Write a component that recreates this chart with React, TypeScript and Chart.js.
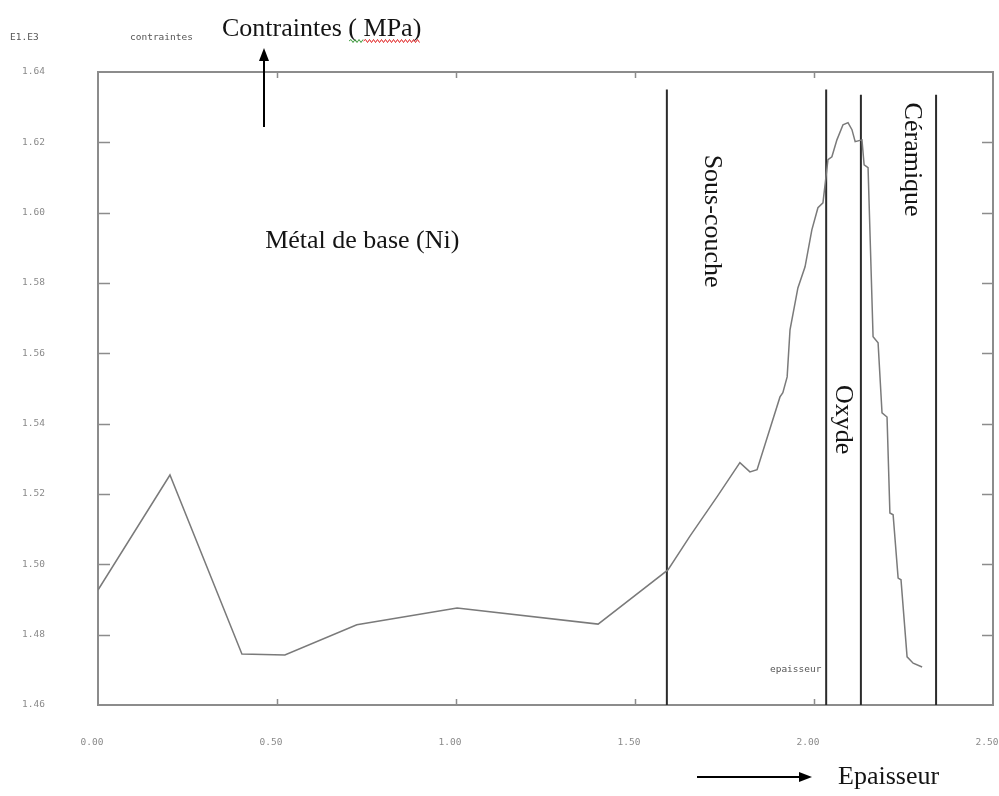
import React, { useEffect, useRef } from "react";
import { Chart, registerables } from "chart.js";

Chart.register(...registerables);

// Thickness (x, arbitrary units as labelled) and stress (y)
const thickness = [
  0.0, 0.201, 0.402, 0.522, 0.723, 1.003, 1.397, 1.592, 1.654, 1.729, 1.793, 1.821,
  1.841, 1.905, 1.913, 1.925, 1.933, 1.955, 1.975, 1.994, 2.011, 2.025, 2.039, 2.05,
  2.064, 2.081, 2.095, 2.106, 2.115, 2.134, 2.14, 2.151, 2.165, 2.179, 2.19, 2.204,
  2.212, 2.221, 2.235, 2.243, 2.26, 2.277, 2.302,
];
const stress = [
  1.4927, 1.5254, 1.4745, 1.4742, 1.4828, 1.4876, 1.483, 1.4984, 1.5081, 1.5192, 1.5289,
  1.5263, 1.5269, 1.5476, 1.5488, 1.5533, 1.5667, 1.5786, 1.5846, 1.5951, 1.6014, 1.6028,
  1.6151, 1.6159, 1.6207, 1.625, 1.6256, 1.6236, 1.6202, 1.6207, 1.6136, 1.6128, 1.5647,
  1.563, 1.5431, 1.5419, 1.5146, 1.5141, 1.4961, 1.4956, 1.4737, 1.4719, 1.4708,
];

// Layer boundaries (vertical lines) and their upper ends
const boundaryX = [1.589, 2.034, 2.131, 2.341];
const boundaryTop = [1.635, 1.635, 1.6335, 1.6335];

const xMin = 0;
const xMax = 2.5;
const xStep = 0.5;
const yMin = 1.46;
const yMax = 1.64;
const yStep = 0.02;

const yAxisTitle = "Contraintes ( MPa)";
const xAxisTitle = "Epaisseur";
const smallYTitle = "contraintes";
const smallXTitle = "epaisseur";
const scaleFactorLabel = "E1.E3";
const regionMetal = "Métal de base (Ni)";
const regionSub = "Sous-couche";
const regionOxide = "Oxyde";
const regionCeramic = "Céramique";

const SERIF = '"Liberation Serif", "Times New Roman", serif';
const MONO = '"DejaVu Sans Mono", "Liberation Mono", monospace';

function squiggle(ctx: CanvasRenderingContext2D, x0: number, x1: number, y: number, color: string) {
  ctx.save();
  ctx.strokeStyle = color;
  ctx.lineWidth = 1;
  ctx.beginPath();
  let up = true;
  ctx.moveTo(x0, y);
  for (let x = x0 + 2; x <= x1; x += 2) {
    ctx.lineTo(x, y + (up ? -1.5 : 1.5));
    up = !up;
  }
  ctx.stroke();
  ctx.restore();
}

const decorPlugin = {
  id: "decor",
  afterDraw(chart: any) {
    const ctx: CanvasRenderingContext2D = chart.ctx;
    const { left, right, top, bottom } = chart.chartArea;
    const xs = chart.scales.x;
    const ys = chart.scales.y;
    ctx.save();

    // top and right frame
    ctx.strokeStyle = "#8c8c8c";
    ctx.lineWidth = 2;
    ctx.beginPath();
    ctx.moveTo(left, top);
    ctx.lineTo(right, top);
    ctx.lineTo(right, bottom);
    ctx.stroke();

    // inward tick marks
    ctx.lineWidth = 1.5;
    ctx.beginPath();
    for (let v = yMin + yStep; v < yMax - 1e-9; v += yStep) {
      const py = Math.round(ys.getPixelForValue(v)) + 0.5;
      ctx.moveTo(left, py);
      ctx.lineTo(left + 12, py);
      ctx.moveTo(right, py);
      ctx.lineTo(right - 11, py);
    }
    for (let v = xMin + xStep; v < xMax - 1e-9; v += xStep) {
      const px = Math.round(xs.getPixelForValue(v)) + 0.5;
      ctx.moveTo(px, top);
      ctx.lineTo(px, top + 6);
      ctx.moveTo(px, bottom);
      ctx.lineTo(px, bottom - 6);
    }
    ctx.stroke();

    // small technical labels
    ctx.fillStyle = "#555";
    ctx.font = `9.5px ${MONO}`;
    ctx.textBaseline = "middle";
    ctx.textAlign = "left";
    ctx.fillText(scaleFactorLabel, 10, 38);
    ctx.fillText(smallYTitle, 130, 38);
    ctx.fillText(smallXTitle, xs.getPixelForValue(1.877), ys.getPixelForValue(1.4702));

    // big titles
    ctx.fillStyle = "#141414";
    ctx.font = `26px ${SERIF}`;
    ctx.textBaseline = "alphabetic";
    const titleX = 222;
    const titleY = 36;
    ctx.fillText(yAxisTitle, titleX, titleY);
    const wPre = ctx.measureText("Contraintes (").width;
    const wAll = ctx.measureText(yAxisTitle).width;
    const wParen = ctx.measureText("Contraintes ( ").width;
    squiggle(ctx, titleX + wPre - 8, titleX + wParen, titleY + 5, "#3a9a3a");
    squiggle(ctx, titleX + wParen, titleX + wAll, titleY + 5, "#e02020");

    ctx.textBaseline = "middle";
    ctx.fillText(regionMetal, xs.getPixelForValue(0.467), ys.getPixelForValue(1.5918));
    ctx.fillText(xAxisTitle, 838, 777);

    const vertical = (text: string, xv: number, yv: number) => {
      ctx.save();
      ctx.translate(xs.getPixelForValue(xv), ys.getPixelForValue(yv));
      ctx.rotate(Math.PI / 2);
      ctx.textAlign = "left";
      ctx.textBaseline = "middle";
      ctx.fillText(text, 0, 0);
      ctx.restore();
    };
    vertical(regionSub, 1.715, 1.6165);
    vertical(regionOxide, 2.081, 1.551);
    vertical(regionCeramic, 2.274, 1.6313);

    // arrows
    ctx.strokeStyle = "#000";
    ctx.fillStyle = "#000";
    ctx.lineWidth = 2;
    ctx.beginPath();
    ctx.moveTo(264, 127);
    ctx.lineTo(264, 58);
    ctx.stroke();
    ctx.beginPath();
    ctx.moveTo(264, 48);
    ctx.lineTo(259, 61);
    ctx.lineTo(269, 61);
    ctx.closePath();
    ctx.fill();

    ctx.beginPath();
    ctx.moveTo(697, 777);
    ctx.lineTo(802, 777);
    ctx.stroke();
    ctx.beginPath();
    ctx.moveTo(812, 777);
    ctx.lineTo(799, 772);
    ctx.lineTo(799, 782);
    ctx.closePath();
    ctx.fill();

    ctx.restore();
  },
};

export default function App() {
  const canvasRef = useRef<HTMLCanvasElement | null>(null);

  useEffect(() => {
    const canvas = canvasRef.current;
    if (!canvas) return;
    const curve = thickness.map((x, i) => ({ x, y: stress[i] }));
    const boundaryDatasets = boundaryX.map((x, i) => ({
      type: "line" as const,
      data: [
        { x, y: yMin },
        { x, y: boundaryTop[i] },
      ],
      borderColor: "#2b2b2b",
      borderWidth: 2,
      pointRadius: 0,
      fill: false,
    }));

    const chart = new Chart(canvas, {
      type: "line",
      data: {
        datasets: [
          {
            data: curve,
            borderColor: "#7a7a7a",
            borderWidth: 1.5,
            pointRadius: 0,
            tension: 0,
            fill: false,
          },
          ...boundaryDatasets,
        ],
      },
      options: {
        animation: false,
        responsive: false,
        devicePixelRatio: 1,
        layout: { padding: { top: 72, right: 6, left: 0, bottom: 0 } },
        plugins: {
          legend: { display: false },
          tooltip: { enabled: false },
        },
        scales: {
          x: {
            type: "linear",
            min: xMin,
            max: xMax,
            grid: { display: false, drawTicks: false },
            border: { display: true, color: "#8c8c8c", width: 2 },
            ticks: {
              stepSize: xStep,
              padding: 32,
              labelOffset: -6,
              maxRotation: 0,
              color: "#8a8a8a",
              font: { family: MONO, size: 9.5 },
              callback: (v: any) => Number(v).toFixed(2),
            },
            afterFit: (s: any) => {
              s.height = 91;
              s.paddingLeft = 0;
              s.paddingRight = 0;
            },
          },
          y: {
            type: "linear",
            min: yMin,
            max: yMax,
            grid: { display: false, drawTicks: false },
            border: { display: true, color: "#8c8c8c", width: 2 },
            ticks: {
              stepSize: yStep,
              padding: 53,
              color: "#8a8a8a",
              font: { family: MONO, size: 9.5 },
              callback: (v: any) => Number(v).toFixed(2),
            },
            afterFit: (s: any) => {
              s.width = 98;
              s.paddingTop = 0;
              s.paddingBottom = 0;
            },
          },
        },
      },
      plugins: [decorPlugin],
    } as any);

    return () => chart.destroy();
  }, []);

  return (
    <div style={{ position: "absolute", left: 0, top: 0, width: 999, height: 796, background: "#fff" }}>
      <canvas ref={canvasRef} width={999} height={796} style={{ display: "block" }} />
    </div>
  );
}
